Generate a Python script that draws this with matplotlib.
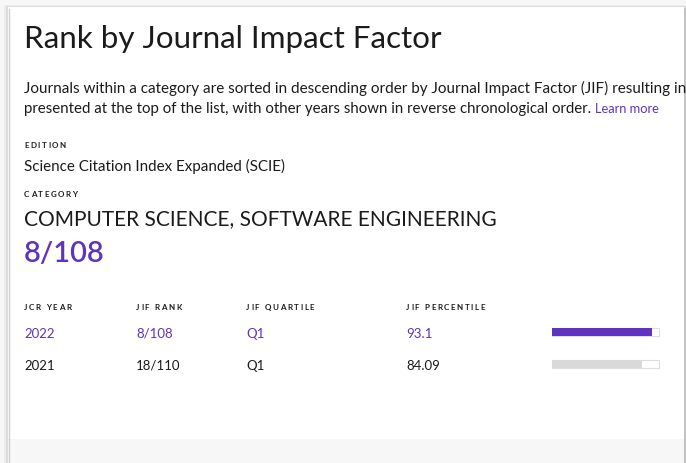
import matplotlib
matplotlib.use("Agg")
import matplotlib.pyplot as plt
from matplotlib.patches import Rectangle

# --- data ---
years = ["2022", "2021"]
ranks = ["8/108", "18/110"]
quartiles = ["Q1", "Q1"]
percentiles = [93.1, 84.09]
percentile_labels = ["93.1", "84.09"]
headers = ["JCR YEAR", "JIF RANK", "JIF QUARTILE", "JIF PERCENTILE"]

PURPLE = "#5e33bf"
DARK = "#1b1b1b"
FONT = "Lato"

W, H = 686, 464
fig = plt.figure(figsize=(W / 100, H / 100), dpi=100)
fig.patch.set_facecolor("#ffffff")
ax = fig.add_axes([0, 0, 1, 1])
ax.set_xlim(0, W)
ax.set_ylim(H, 0)
ax.axis("off")
renderer = fig.canvas.get_renderer()

# card + shadows
ax.add_patch(Rectangle((0, 0), W, H, facecolor="#f7f7f7", edgecolor="none"))
ax.add_patch(Rectangle((4, 6), 682, 460, facecolor="#ececec", edgecolor="none"))
ax.add_patch(Rectangle((6, 7), 680, 460, facecolor="#dddddd", edgecolor="none"))
ax.add_patch(Rectangle((8, 8), 676, 460, facecolor="#ffffff", edgecolor="none"))
ax.add_patch(Rectangle((8, 440), 676, 30, facecolor="#f7f7f7", edgecolor="none"))
ax.plot([684.5, 684.5], [10, 464], color="#bdbdbd", lw=1.2)
ax.plot([8.5, 8.5], [10, 464], color="#d0d0d0", lw=1.0)


def t(x, y, s, size, color=DARK, weight="normal", **kw):
    return ax.text(x, y, s, fontsize=size, color=color, fontweight=weight,
                   family=FONT, va="baseline", ha="left", **kw)


def label(x, y, s, size=5.8, track=1.6):
    # small caps label with letter spacing, drawn one glyph at a time
    for ch in s:
        if ch == " ":
            x += 3.5
            continue
        txt = t(x, y, ch, size, weight="bold")
        bb = txt.get_window_extent(renderer)
        x += bb.width + track


t(24, 48, "Rank by Journal Impact Factor", 22.6)
t(24, 93, "Journals within a category are sorted in descending order by Journal "
   "Impact Factor (JIF) resulting in", 10.95)
line2 = t(24, 113, "presented at the top of the list, with other years shown "
          "in reverse chronological order.", 10.8)
x_end = line2.get_window_extent(renderer).x1
t(x_end + 4, 113, "Learn more", 9.3, color=PURPLE)

label(24, 148, "EDITION")
t(24, 171, "Science Citation Index Expanded (SCIE)", 10.9)
label(24, 197, "CATEGORY")
t(24, 225, "COMPUTER SCIENCE, SOFTWARE ENGINEERING", 15.0)
t(24, 262, ranks[0], 21.0, color=PURPLE, weight="semibold")

# table
col_x = [24, 136, 246, 406]
for x, h in zip(col_x, headers):
    label(x, 310, h)

row_y = [338, 370]
bar_x0, bar_w, bar_h = 552, 107, 8
for i, y in enumerate(row_y):
    c = PURPLE if i == 0 else DARK
    t(col_x[0], y, years[i], 9.5, color=c)
    t(col_x[1], y, ranks[i], 9.5, color=c)
    t(col_x[2], y, quartiles[i], 9.5, color=c)
    t(col_x[3], y, percentile_labels[i], 9.5, color=c)
    yc = y - 5
    ax.barh(yc, bar_w, left=bar_x0, height=bar_h, color="#ffffff",
            edgecolor="#dedede", linewidth=0.8)
    ax.barh(yc, percentiles[i] / 100 * bar_w, left=bar_x0, height=bar_h,
            color=PURPLE if i == 0 else "#d9d9d9", edgecolor="none")

fig.savefig("out.png", dpi=100)
